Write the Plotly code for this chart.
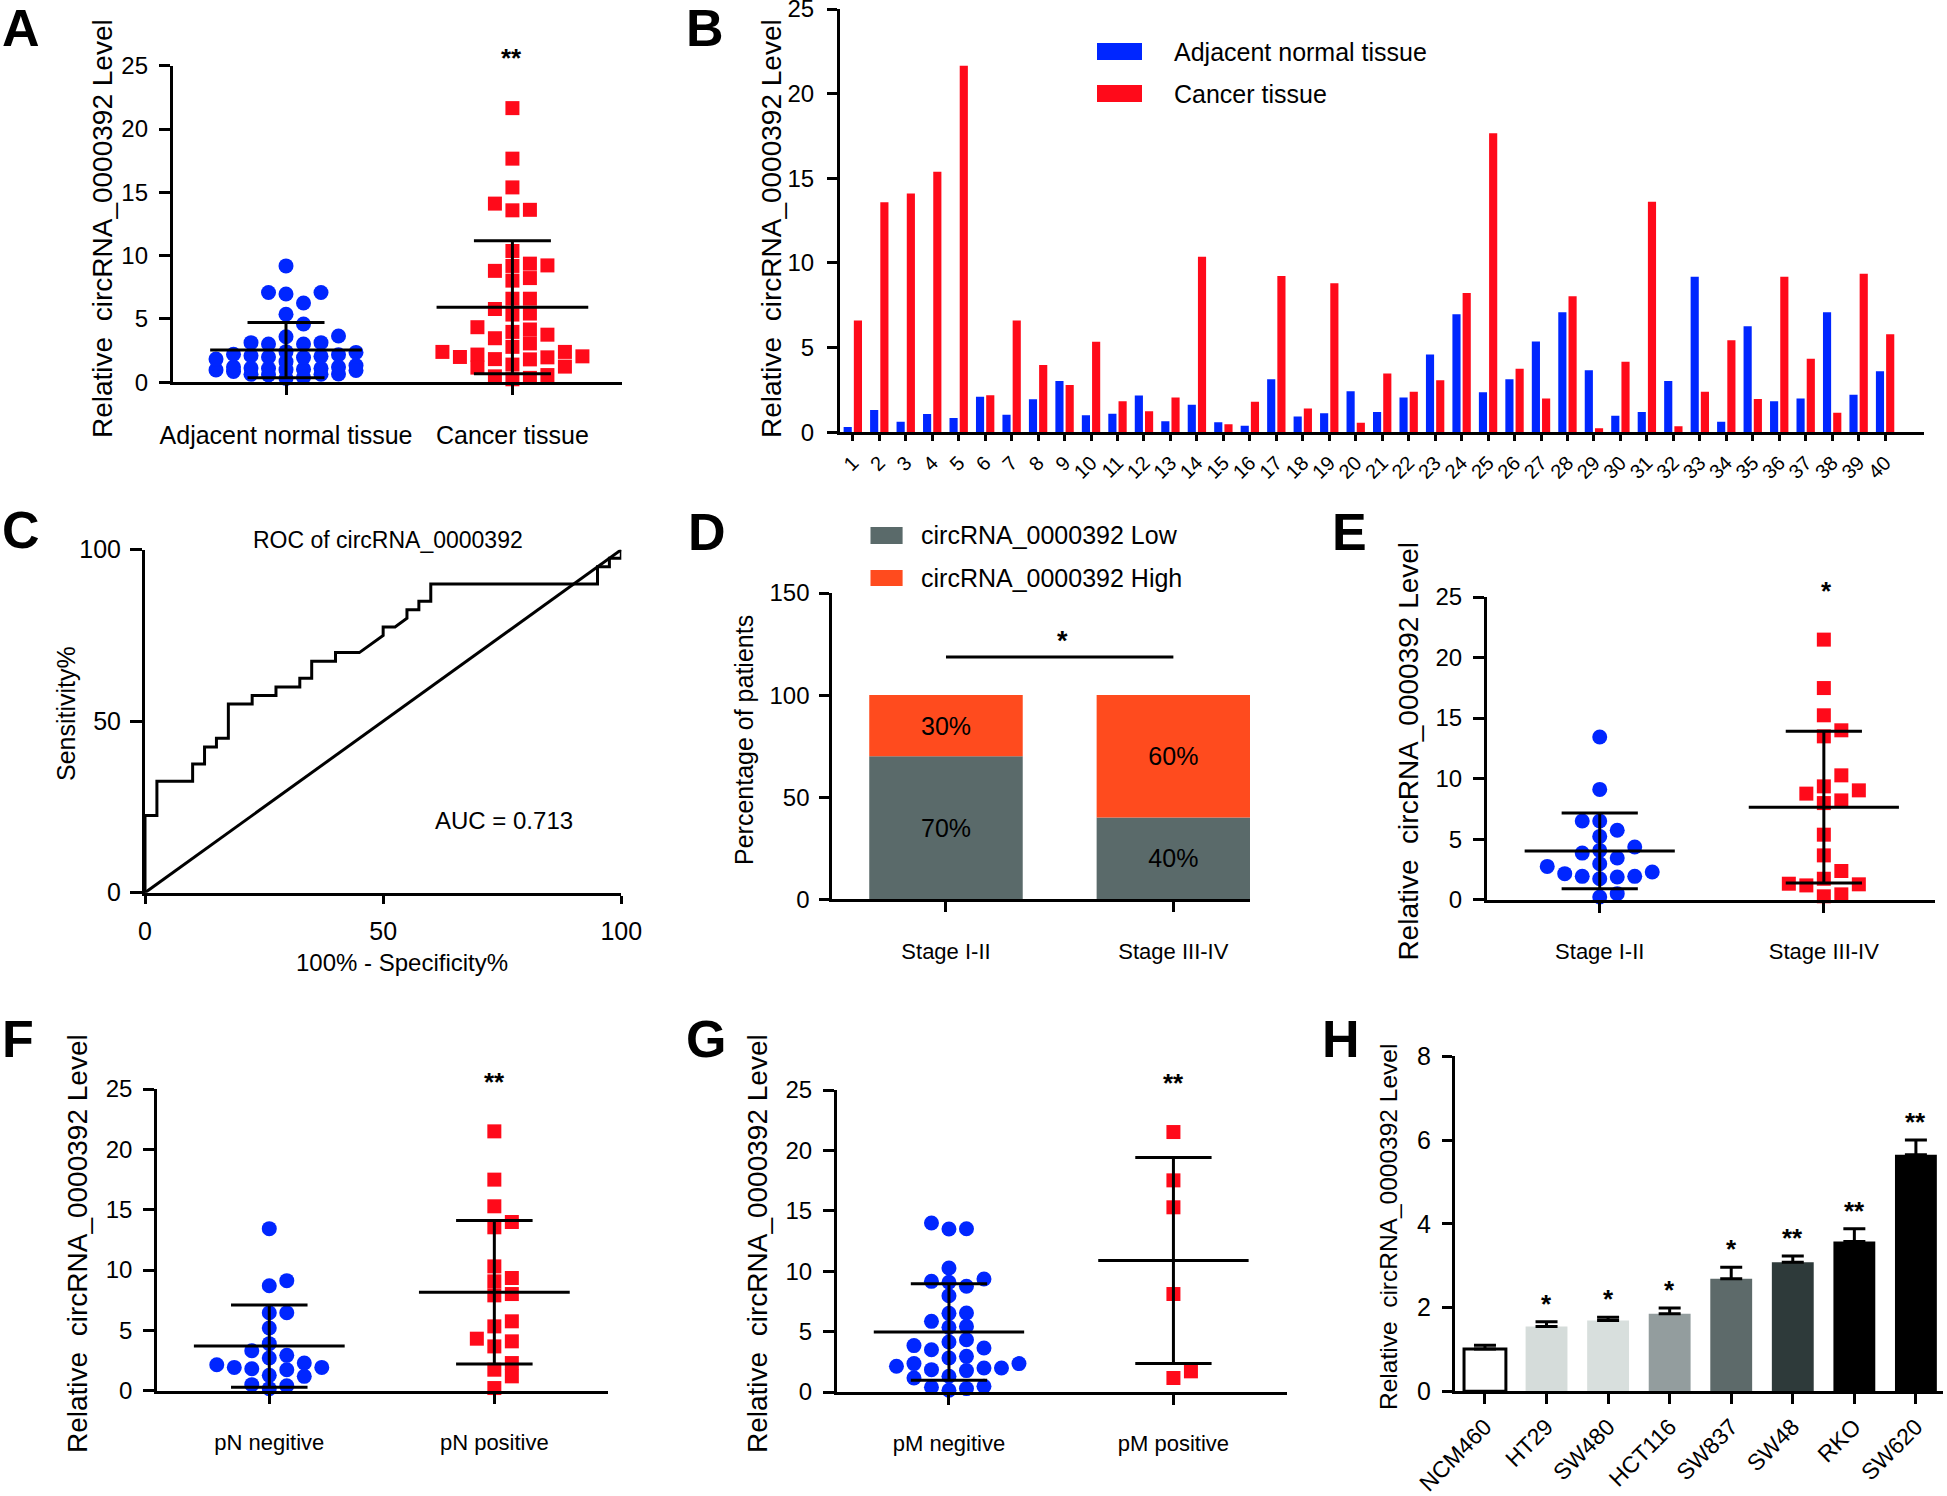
import numpy as np
import plotly.graph_objects as go

W, H = 1947, 1496
FONT = "Liberation Sans, Arial, Helvetica, sans-serif"
BLUE = "#0026ff"
RED = "#ff0a1a"

# ---------------- data ----------------
patient_ids = [str(i) for i in range(1, 41)]
normal_level = [0.31, 1.32, 0.63, 1.08, 0.85, 2.10, 1.04, 1.95, 3.03, 1.00,
                1.10, 2.17, 0.65, 1.63, 0.59, 0.39, 3.13, 0.94, 1.12, 2.42,
                1.20, 2.05, 4.60, 6.97, 2.36, 3.13, 5.37, 7.09, 3.66, 0.98,
                1.20, 3.03, 9.19, 0.63, 6.26, 1.83, 2.00, 7.09, 2.22, 3.60]
cancer_level = [6.60, 13.58, 14.11, 15.39, 21.65, 2.19, 6.60, 3.98, 2.80, 5.35,
                1.83, 1.24, 2.05, 10.37, 0.47, 1.81, 9.23, 1.40, 8.80, 0.57,
                3.48, 2.40, 3.07, 8.23, 17.66, 3.76, 2.00, 8.03, 0.24, 4.17,
                13.62, 0.35, 2.40, 5.43, 1.97, 9.19, 4.35, 1.16, 9.37, 5.79]
tissue_groups = ["Adjacent normal tissue", "Cancer tissue"]

roc_fpr = [0, 0, 2.5, 2.5, 10, 10, 12.5, 12.5, 15, 15, 17.5, 17.5, 22.5, 22.5,
           27.5, 27.5, 32.5, 32.5, 35, 35, 40, 40, 45, 50, 50, 52.5, 55, 55,
           57.5, 57.5, 60, 60, 95, 95, 97.5, 97.5, 100, 100]
roc_tpr = [0, 22.5, 22.5, 32.5, 32.5, 37.5, 37.5, 42.5, 42.5, 45, 45, 55, 55, 57.5,
           57.5, 60, 60, 62.5, 62.5, 67.5, 67.5, 70, 70, 75, 77.5, 77.5, 80, 82.5,
           82.5, 85, 85, 90, 90, 95, 95, 97.5, 97.5, 100]
chance_line = [0, 100]
auc_label = "AUC = 0.713"

stage_groups = ["Stage I-II", "Stage III-IV"]
stage_low_pct = [70, 40]
stage_high_pct = [30, 60]

stage_early = [13.44, 9.11, 6.50, 6.50, 5.73, 5.23, 4.07, 3.85, 4.35, 3.44,
               2.97, 2.29, 1.93, 1.87, 1.73, 1.93, 2.15, 2.75, 0.22, 0.50]
stage_late = [21.48, 17.48, 15.23, 13.99, 13.49, 10.27, 9.03, 9.36, 8.76, 8.20,
              7.98, 5.37, 3.66, 2.37, 1.32, 1.18, 1.27, 1.73, 0.28, 0.44]

pN_groups = ["pN negitive", "pN positive"]
pN_negative = [13.43, 8.70, 9.12, 6.46, 6.46, 5.19, 3.90, 3.31, 2.93, 2.29, 1.93,
               1.82, 1.74, 1.93, 2.15, 2.71, 1.27, 1.19, 0.50, 0.17, 0.41]
pN_positive = [21.49, 17.49, 15.28, 13.98, 13.54, 10.30, 9.34, 9.06, 8.01, 7.90,
               5.75, 5.33, 4.31, 4.09, 3.67, 2.29, 1.74, 1.19, 0.22]

pM_groups = ["pM negitive", "pM positive"]
pM_negative = [13.99, 13.49, 13.52, 10.26, 9.35, 9.08, 8.75, 9.16, 7.97, 6.51,
               6.54, 5.85, 5.43, 5.35, 4.33, 3.84, 3.64, 4.14, 3.50, 2.81,
               2.95, 2.35, 1.99, 1.85, 1.77, 1.99, 2.13, 2.35, 1.16, 1.30,
               0.39, 0.14, 0.28, 0.47]
pM_positive = [21.52, 17.52, 15.29, 8.11, 1.71, 1.16]

cell_lines = ["NCM460", "HT29", "SW480", "HCT116", "SW837", "SW48", "RKO", "SW620"]
cell_mean = [1.01, 1.55, 1.69, 1.85, 2.69, 3.08, 3.58, 5.65]
cell_sem = [0.09, 0.11, 0.08, 0.14, 0.27, 0.15, 0.30, 0.35]
cell_sig = ["", "*", "*", "*", "*", "**", "**", "**"]
cell_colors = ["#ffffff", "#d5dcda", "#d8dfdd", "#939d9e", "#5d6a6a", "#2e3a3a", "#000000", "#000000"]

# ---------------- helpers ----------------
def px(x):
    return x / W


def py(y):
    return 1 - y / H


def dom_x(a, b):
    return [a / W, b / W]


def dom_y(top, bottom):
    return [1 - bottom / H, 1 - top / H]


traces = []
layout = dict(template="none", width=W, height=H, autosize=False,
              margin=dict(l=0, r=0, t=0, b=0, pad=0, autoexpand=False),
              paper_bgcolor="white", plot_bgcolor="rgba(0,0,0,0)",
              font=dict(family=FONT, color="black"),
              showlegend=False, barmode="overlay", annotations=[], shapes=[])


def axis_base(size=25, ticklen=10, standoff=5, angle=0):
    return dict(showline=True, linecolor="black", linewidth=3, ticks="outside",
                tickcolor="black", tickwidth=3, ticklen=ticklen, showgrid=False,
                zeroline=False, fixedrange=True, automargin=False,
                ticklabelstandoff=standoff, ticklabeloverflow="allow", tickangle=angle,
                tickfont=dict(family=FONT, size=size, color="black"))


def set_axes(n, xd, yd, xr, yr, xkw, ykw):
    xk = "xaxis" if n == 1 else f"xaxis{n}"
    yk = "yaxis" if n == 1 else f"yaxis{n}"
    xa = dict(domain=xd, range=xr, anchor=("y" if n == 1 else f"y{n}"))
    xa.update(xkw)
    ya = dict(domain=yd, range=yr, anchor=("x" if n == 1 else f"x{n}"))
    ya.update(ykw)
    layout[xk] = xa
    layout[yk] = ya
    return ("x" if n == 1 else f"x{n}"), ("y" if n == 1 else f"y{n}")


def ann(text, x, y, size, bold=False, angle=0, xanchor="center", yanchor="middle"):
    if bold:
        text = f"<b>{text}</b>"
    layout["annotations"].append(dict(
        text=text, x=px(x), y=py(y), xref="paper", yref="paper", showarrow=False,
        textangle=angle, xanchor=xanchor, yanchor=yanchor,
        font=dict(family=FONT, size=size, color="black")))


def swarm_offsets(vals, ppu_y, ppu_x, vdist=13.0, step=17.5, max_col=4):
    """GraphPad-like column placement with a bounded width; dense clusters overlap."""
    vals = np.asarray(vals, float)
    order = np.argsort(vals, kind="stable")
    cands = [0]
    for j in range(1, max_col + 1):
        cands += [j, -j]
    placed = []
    off = np.zeros(len(vals))
    for i in order:
        yp = vals[i] * ppu_y
        best, best_gap = 0, -1.0
        for c in cands:
            gaps = [abs(yp - b) for pc, b in placed if pc == c]
            gap = min(gaps) if gaps else 1e9
            if gap >= vdist:
                best = c
                break
            if gap > best_gap + 0.5:
                best, best_gap = c, gap
        placed.append((best, yp))
        off[i] = best * step / ppu_x
    return off


def dot_panel(n, groups, series, xpx, ypx, xr, sig, sig_xy, title_xy, ytitle_size=28,
              label_size=22, label_standoff=20):
    x0, x1 = xpx
    top, bottom = ypx
    xa, ya = set_axes(
        n, dom_x(x0, x1), dom_y(top, bottom), xr, [0, 25],
        dict(axis_base(label_size, 10, label_standoff), tickvals=[0, 1], ticktext=groups),
        dict(axis_base(24, 11, 6), tickvals=[0, 5, 10, 15, 20, 25]))
    ppu_y = (bottom - top) / 25.0
    ppu_x = (x1 - x0) / (xr[1] - xr[0])
    for gi, (vals, color, sym, size) in enumerate(series):
        off = swarm_offsets(vals, ppu_y, ppu_x)
        traces.append(go.Scatter(
            x=gi + off, y=vals, mode="markers", xaxis=xa, yaxis=ya, cliponaxis=False,
            marker=dict(symbol=sym, size=size, color=color, line=dict(width=0)),
            hoverinfo="skip"))
    # mean +/- SD
    lx, ly = [], []
    for gi, (vals, _, _, _) in enumerate(series):
        m = float(np.mean(vals))
        s = float(np.std(vals, ddof=1))
        lx += [gi - 0.335, gi + 0.335, None, gi, gi, None,
               gi - 0.17, gi + 0.17, None, gi - 0.17, gi + 0.17, None]
        ly += [m, m, None, m - s, m + s, None,
               m + s, m + s, None, m - s, m - s, None]
    traces.append(go.Scatter(x=lx, y=ly, mode="lines", xaxis=xa, yaxis=ya,
                             cliponaxis=False, line=dict(color="black", width=3),
                             hoverinfo="skip"))
    ann(sig, sig_xy[0], sig_xy[1], 26, bold=True)
    ann("Relative  circRNA_0000392 Level", title_xy[0], title_xy[1], ytitle_size, angle=-90)


# ---------------- Panel A ----------------
dot_panel(1, tissue_groups,
          [(normal_level, BLUE, "circle", 15), (cancer_level, RED, "square", 14)],
          (172.8, 622), (65.7, 382.3), [-0.5, 1.484], "**", (511.7, 58), (102, 229),
          label_size=25, label_standoff=19)

# ---------------- Panel B ----------------
xb, yb = set_axes(
    2, dom_x(840, 1924), dom_y(9, 432.3), [0.516, 41.47], [0, 25],
    dict(axis_base(20, 6, 2, -45), tickvals=list(range(1, 41)), ticktext=patient_ids),
    dict(axis_base(24, 10, 8), tickvals=[0, 5, 10, 15, 20, 25]))
pos = list(range(1, 41))
traces.append(go.Bar(x=pos, y=normal_level, xaxis=xb, yaxis=yb, width=0.308, offset=-0.347,
                     marker=dict(color=BLUE, line=dict(width=0)), hoverinfo="skip"))
traces.append(go.Bar(x=pos, y=cancer_level, xaxis=xb, yaxis=yb, width=0.308, offset=0.039,
                     marker=dict(color=RED, line=dict(width=0)), hoverinfo="skip"))
ann("Relative  circRNA_0000392 Level", 771, 229, 28, angle=-90)
layout["shapes"].append(dict(type="rect", xref="paper", yref="paper", x0=px(1097), x1=px(1142),
                             y0=py(60), y1=py(43), fillcolor=BLUE, line=dict(width=0)))
layout["shapes"].append(dict(type="rect", xref="paper", yref="paper", x0=px(1097), x1=px(1142),
                             y0=py(102), y1=py(85), fillcolor=RED, line=dict(width=0)))
ann(tissue_groups[0], 1172, 52, 25, xanchor="left")
ann(tissue_groups[1], 1172, 94, 25, xanchor="left")

# ---------------- Panel C ----------------
xc, yc = set_axes(
    3, dom_x(145, 621.3), dom_y(549.7, 892.7), [0, 100], [0, 100],
    dict(axis_base(25, 8, 6), tickvals=[0, 50, 100]),
    dict(axis_base(25, 12, 4), tickvals=[0, 50, 100]))
traces.append(go.Scatter(x=roc_fpr, y=roc_tpr, mode="lines", xaxis=xc, yaxis=yc, cliponaxis=False,
                         line=dict(color="black", width=3), hoverinfo="skip"))
traces.append(go.Scatter(x=chance_line, y=chance_line, mode="lines", xaxis=xc, yaxis=yc,
                         cliponaxis=False, line=dict(color="black", width=3), hoverinfo="skip"))
ann("ROC of circRNA_0000392", 388, 540, 23)
ann("100% - Specificity%", 402, 962, 24)
ann("Sensitivity%", 66, 714, 25, angle=-90)
ann(auc_label, 503.5, 820, 24)

# ---------------- Panel D ----------------
xd, yd = set_axes(
    4, dom_x(832.3, 1250), dom_y(593, 899.3), [-0.5, 1.337], [0, 150],
    dict(axis_base(22, 10, 20), tickvals=[0, 1], ticktext=stage_groups),
    dict(axis_base(24, 10, 5), tickvals=[0, 50, 100, 150]))
traces.append(go.Bar(x=[0, 1], y=stage_low_pct, xaxis=xd, yaxis=yd, width=0.675,
                     marker=dict(color="#5a6a6a", line=dict(width=0)),
                     texttemplate="%{y}%", textposition="inside", insidetextanchor="middle",
                     textangle=0, textfont=dict(family=FONT, size=25, color="black"),
                     hoverinfo="skip"))
traces.append(go.Bar(x=[0, 1], y=stage_high_pct, base=stage_low_pct, xaxis=xd, yaxis=yd, width=0.675,
                     marker=dict(color="#ff4b1e", line=dict(width=0)),
                     texttemplate="%{y}%", textposition="inside", insidetextanchor="middle",
                     textangle=0, textfont=dict(family=FONT, size=25, color="black"),
                     hoverinfo="skip"))
layout["shapes"].append(dict(type="line", xref=xd, yref=yd, x0=0, x1=1, y0=118.7, y1=118.7,
                             line=dict(color="black", width=3)))
ann("*", 1062.3, 641, 27, bold=True)
ann("Percentage of patients", 744, 740, 25, angle=-90)
layout["shapes"].append(dict(type="rect", xref="paper", yref="paper", x0=px(870.5), x1=px(902.6),
                             y0=py(544), y1=py(527), fillcolor="#5a6a6a", line=dict(width=0)))
layout["shapes"].append(dict(type="rect", xref="paper", yref="paper", x0=px(870.5), x1=px(902.6),
                             y0=py(586), y1=py(570), fillcolor="#ff4b1e", line=dict(width=0)))
ann("circRNA_0000392 Low", 919, 535.3, 25, xanchor="left")
ann("circRNA_0000392 High", 919, 578, 25, xanchor="left")

# ---------------- Panel E ----------------
dot_panel(5, stage_groups,
          [(stage_early, BLUE, "circle", 15), (stage_late, RED, "square", 14)],
          (1487, 1935), (597, 899.7), [-0.503, 1.496], "*", (1826, 590.5), (1408.6, 751))

# ---------------- Panel F ----------------
dot_panel(6, pN_groups,
          [(pN_negative, BLUE, "circle", 15), (pN_positive, RED, "square", 14)],
          (157.2, 608), (1089, 1390.7), [-0.498, 1.505], "**", (494.3, 1082), (77, 1244))

# ---------------- Panel G ----------------
dot_panel(7, pM_groups,
          [(pM_negative, BLUE, "circle", 15), (pM_positive, RED, "square", 14)],
          (836.9, 1287), (1090, 1392), [-0.4993, 1.506], "**", (1173.5, 1083), (757, 1244))

# ---------------- Panel H ----------------
xh, yh = set_axes(
    8, dom_x(1454.8, 1943), dom_y(1056.3, 1391.3), [-0.49, 7.44], [0, 8],
    dict(axis_base(23, 10, 0, -45), tickvals=list(range(8)), ticktext=cell_lines),
    dict(axis_base(25, 10, 6), tickvals=[0, 2, 4, 6, 8]))
traces.append(go.Bar(x=list(range(8)), y=cell_mean, xaxis=xh, yaxis=yh, width=0.68,
                     marker=dict(color=cell_colors, line=dict(color="black", width=[3, 0, 0, 0, 0, 0, 0, 0])),
                     error_y=dict(type="data", array=cell_sem, arrayminus=[0] * 8, symmetric=False,
                                  color="black", thickness=3, width=11),
                     hoverinfo="skip"))
for i, s in enumerate(cell_sig):
    if s:
        layout["annotations"].append(dict(
            text=f"<b>{s}</b>", x=i, y=cell_mean[i] + cell_sem[i], xref=xh, yref=yh,
            showarrow=False, yshift=18, xanchor="center", yanchor="middle",
            font=dict(family=FONT, size=26, color="black")))
ann("Relative  circRNA_0000392 Level", 1388, 1227, 24.5, angle=-90)

# ---------------- panel letters ----------------
for letter, lx, ly in [("A", 0, 28), ("B", 684, 28), ("C", 0, 530), ("D", 686, 532),
                       ("E", 1330, 532), ("F", 0, 1039), ("G", 684, 1039), ("H", 1320, 1039)]:
    ann(letter, lx, ly, 52, bold=True, xanchor="left")

fig = go.Figure(data=traces, layout=layout)
fig.write_html("out.html", config={"displayModeBar": False},
               post_script="document.body.style.margin='0';document.body.style.overflow='hidden';")
